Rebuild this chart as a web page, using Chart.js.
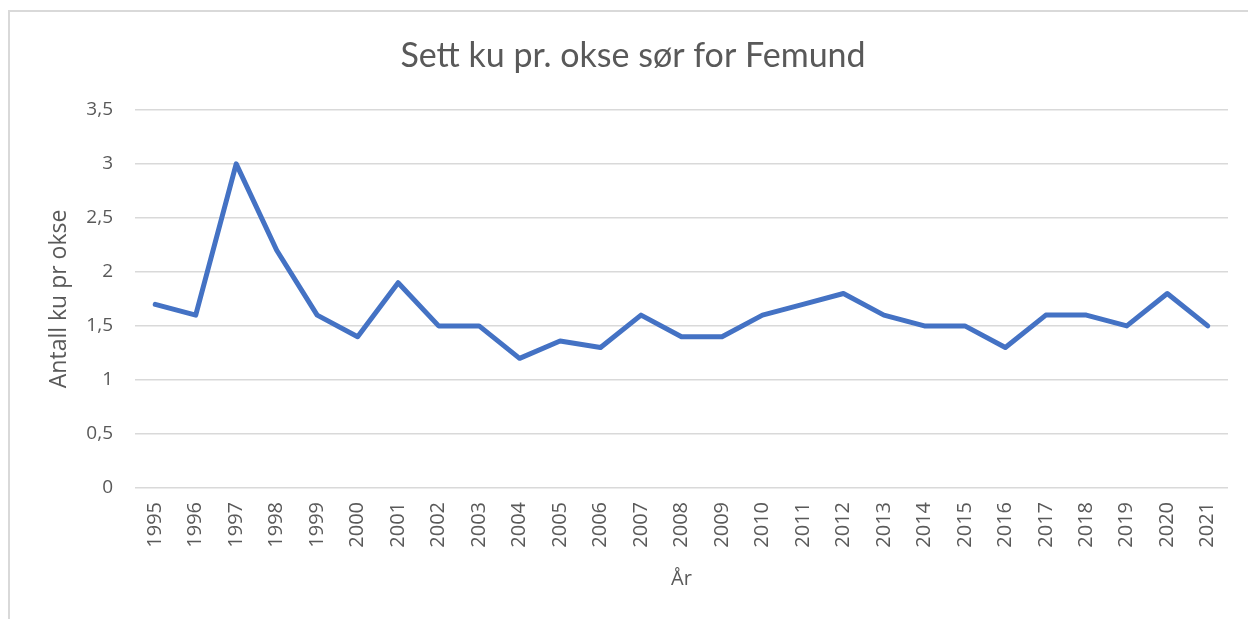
<!DOCTYPE html>
<html>
<head>
<meta charset="utf-8">
<script src="https://cdn.jsdelivr.net/npm/chart.js@4.4.0/dist/chart.umd.min.js"></script>
<style>
  html, body { margin: 0; padding: 0; background: #fff; }
  #wrap { position: relative; width: 1248px; height: 619px; }
  #frame { position: absolute; left: 8px; top: 10px; right: 0; bottom: 0;
           border-top: 2px solid #d9d9d9; border-left: 2px solid #d9d9d9; }
  canvas { position: absolute; left: 0; top: 0; }
</style>
</head>
<body>
<div id="wrap">
  <div id="frame"></div>
  <canvas id="chart" width="1248" height="619"></canvas>
</div>
<script>
// Sett ku pr. okse, sør for Femund
const years = ["1995","1996","1997","1998","1999","2000","2001","2002","2003","2004","2005","2006","2007",
  "2008","2009","2010","2011","2012","2013","2014","2015","2016","2017","2018","2019","2020","2021"];
const kuPrOkse = [1.7, 1.6, 3.0, 2.2, 1.6, 1.4, 1.9, 1.5, 1.5, 1.2, 1.36, 1.3, 1.6,
  1.4, 1.4, 1.6, 1.7, 1.8, 1.6, 1.5, 1.5, 1.3, 1.6, 1.6, 1.5, 1.8, 1.5];

const grey = "#595959";

const ctx = document.getElementById("chart").getContext("2d");
window.chartInstance = new Chart(ctx, {
  type: "line",
  data: {
    labels: years,
    datasets: [{
      label: "Sett ku pr. okse",
      data: kuPrOkse,
      borderColor: "#4472c4",
      borderWidth: 5,
      borderJoinStyle: "round",
      borderCapStyle: "round",
      pointRadius: 0,
      fill: false,
      tension: 0
    }]
  },
  options: {
    responsive: false,
    animation: false,
    // linke padding så tittelen havner midt over som i originalen
    layout: { padding: { left: 38, right: 20, top: 0, bottom: 0 } },
    scales: {
      x: {
        offset: true,
        grid: { display: false, drawTicks: false },
        border: { display: false },
        ticks: { color: grey, font: { family: "'Open Sans', sans-serif", size: 20 },
                 minRotation: 90, maxRotation: 90, padding: 14, autoSkip: false },
        title: { display: true, text: "År", color: grey, font: { family: "'Open Sans', sans-serif", size: 20 },
                 padding: { top: 0, bottom: 28 } },
        afterFit: s => { s.height = 131; }
      },
      y: {
        min: 0,
        max: 3.5,
        grid: { color: "#d9d9d9", lineWidth: 1.5, drawTicks: false },
        border: { display: false },
        ticks: {
          stepSize: 0.5,
          color: grey,
          font: { family: "'Open Sans', sans-serif", size: 19 },
          padding: 22,
          callback: v => String(v).replace(".", ",")
        },
        title: { display: true, text: "Antall ku pr okse", color: grey,
                 font: { family: "'Open Sans', sans-serif", size: 23 }, padding: { top: 8, bottom: 0 } },
        afterFit: s => { s.width = 97; }
      }
    },
    plugins: {
      legend: { display: false },
      tooltip: { enabled: false },
      title: {
        display: true,
        text: "Sett ku pr. okse sør for Femund",
        color: grey,
        font: { family: "Lato, sans-serif", size: 34, weight: "normal" },
        padding: { top: 36, bottom: 33 }
      }
    }
  }
});
</script>
</body>
</html>
